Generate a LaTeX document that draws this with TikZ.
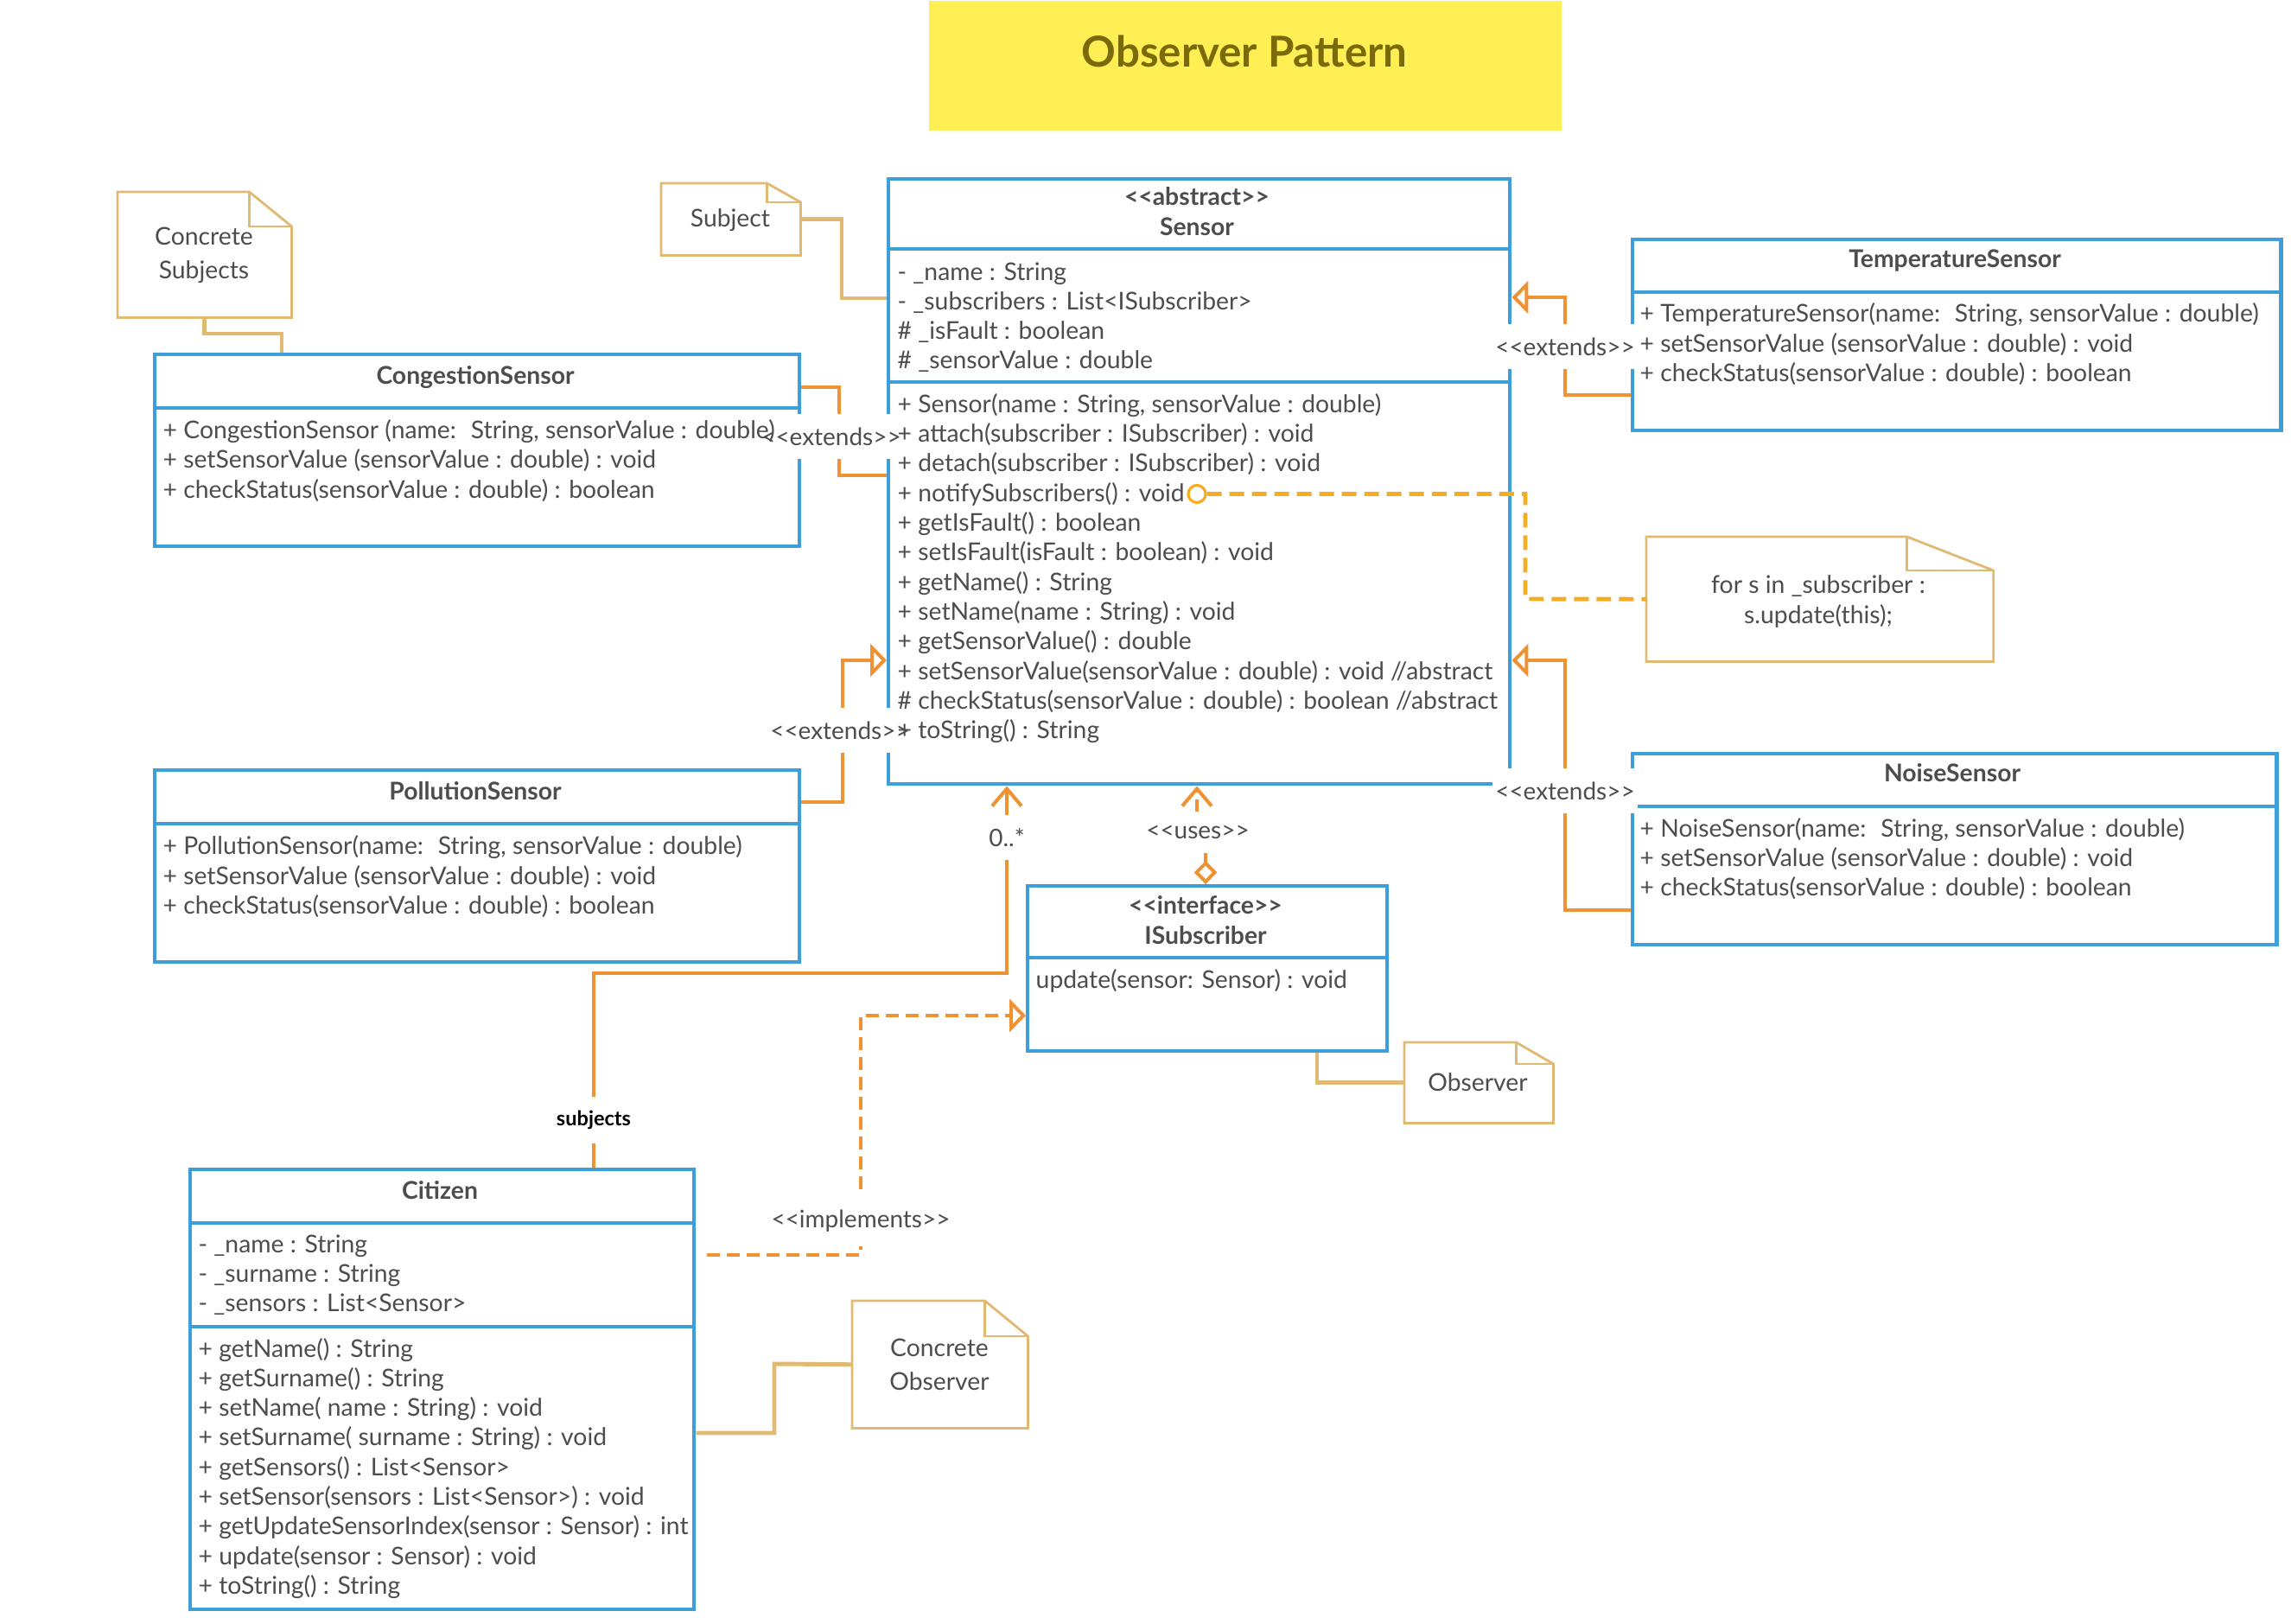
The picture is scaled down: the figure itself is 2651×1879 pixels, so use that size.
\documentclass[tikz,border=0pt]{standalone}
\usepackage{fontspec}
\setmainfont{Lato}
\usetikzlibrary{arrows.meta,calc}
\definecolor{boxblue}{RGB}{61,158,218}
\definecolor{conor}{RGB}{239,146,52}
\definecolor{notetan}{RGB}{224,186,114}
\definecolor{notifyy}{RGB}{245,172,30}
\definecolor{txt}{RGB}{77,77,77}
\definecolor{ttlfill}{RGB}{255,239,85}
\definecolor{ttltxt}{RGB}{122,106,10}
\newcommand{\fs}{\fontsize{8.05}{10}\selectfont}
\newcommand{\lfs}{\fontsize{7.95}{10}\selectfont}
\newcommand{\sopen}{<{}<}
\newcommand{\sclose}{>{}>}
\newcommand{\members}[5]{\foreach \mtext [count=\mi] in {#5} {\node[mem] (#1\mi) at (#2,{#3+9+#4*(\mi-1)}) {\mtext};}}
\newcommand{\dogear}[3]{%
  \draw[notefr] (#1.north west) -- ([xshift=-#2]#1.north east) -- ([yshift=-#3]#1.north east) -- (#1.south east) -- (#1.south west) -- cycle;
  \draw[notefr] ([xshift=-#2]#1.north east) -- ([xshift=-#2,yshift=-#3]#1.north east) -- ([yshift=-#3]#1.north east);}
\begin{document}
\begin{tikzpicture}[x=0.01cm,y=-0.01cm,
  cbox/.style={draw=boxblue, line width=1.15pt, fill=white, anchor=north west, inner sep=0, rectangle},
  sepl/.style={draw=boxblue, line width=1.15pt},
  notebox/.style={anchor=north west, inner sep=0, rectangle, fill=white},
  notefr/.style={draw=notetan, line width=0.8pt, line join=miter},
  notelink/.style={draw=notetan, line width=1.4pt},
  mem/.style={anchor=base west, inner sep=0, font=\fs, text=txt},
  ctitle/.style={anchor=base, inner sep=0, font=\fs\bfseries, text=txt},
  ntext/.style={anchor=base, inner sep=0, font=\fs, text=txt},
  conn/.style={draw=conor, line width=1.15pt},
  dashc/.style={conn, dash pattern=on 0.15cm off 0.08cm},
  exttip/.style={-{Triangle[open,length=0.19cm,width=0.38cm]}},
  barbtip/.style={-{Straight Barb[length=0.2cm,width=0.34cm]}},
  lbl/.style={fill=white, inner xsep=1pt, inner ysep=4.5pt, font=\lfs, text=txt},
]
\useasboundingbox (0,0) rectangle (2651,1879);

% title
\node[anchor=north west, fill=ttlfill, minimum width=7.32cm, minimum height=1.5cm, inner sep=0] (titlebox) at (1074,0) {};
\node[anchor=base, inner sep=0, font=\fontsize{14}{16}\selectfont\bfseries, text=ttltxt] (title) at (1440,78) {Observer Pattern};

% notes
\node[notebox, minimum width=2.00cm, minimum height=1.44cm] (cs) at (136,222) {};
\dogear{cs}{0.49cm}{0.40cm}
\node[notebox, minimum width=1.60cm, minimum height=0.82cm] (subj) at (765,212) {};
\dogear{subj}{0.39cm}{0.22cm}
\node[notebox, minimum width=1.71cm, minimum height=0.92cm] (obs) at (1625,1206) {};
\dogear{obs}{0.43cm}{0.25cm}
\node[notebox, minimum width=2.02cm, minimum height=1.46cm] (co) at (986,1505) {};
\dogear{co}{0.50cm}{0.41cm}
\node[notebox, minimum width=4.00cm, minimum height=1.43cm] (loop) at (1905,621) {};
\dogear{loop}{1.00cm}{0.39cm}

% class boxes
\node[cbox, minimum width=7.19cm, minimum height=7.00cm] (sensor) at (1026,205) {};
\draw[sepl] (sensor.west |- 0,288) -- (sensor.east |- 0,288);
\draw[sepl] (sensor.west |- 0,442) -- (sensor.east |- 0,442);
\node[cbox, minimum width=7.46cm, minimum height=2.22cm] (cong) at (177,408) {};
\draw[sepl] (cong.west |- 0,472) -- (cong.east |- 0,472);
\node[cbox, minimum width=7.46cm, minimum height=2.22cm] (poll) at (177,889) {};
\draw[sepl] (poll.west |- 0,953) -- (poll.east |- 0,953);
\node[cbox, minimum width=7.50cm, minimum height=2.21cm] (temp) at (1887,275) {};
\draw[sepl] (temp.west |- 0,338) -- (temp.east |- 0,338);
\node[cbox, minimum width=7.45cm, minimum height=2.21cm] (noise) at (1887,870) {};
\draw[sepl] (noise.west |- 0,933) -- (noise.east |- 0,933);
\node[cbox, minimum width=4.16cm, minimum height=1.91cm] (isub) at (1187,1023) {};
\draw[sepl] (isub.west |- 0,1108) -- (isub.east |- 0,1108);
\node[cbox, minimum width=5.83cm, minimum height=5.09cm] (citizen) at (218,1351) {};
\draw[sepl] (citizen.west |- 0,1415) -- (citizen.east |- 0,1415);
\draw[sepl] (citizen.west |- 0,1535) -- (citizen.east |- 0,1535);

% note links
\coordinate (c1) at (326,386);
\draw[notelink] (cs.south) |- (c1) -- (c1 |- cong.north);
\coordinate (c2) at (974,345);
\draw[notelink] (subj.east) -| (c2) -- (c2 -| sensor.west);
\draw[notelink] (1524,0 |- isub.south) |- (obs.west);
\coordinate (c11) at (896,1578);
\draw[notelink] (citizen.east |- 0,1658) -| (c11) -- (co.west);

% notify
\node[circle, draw=notifyy, line width=0.9pt, minimum size=0.2cm, inner sep=0] (nc) at (1385,571.5) {};
\coordinate (c12) at (1765,693);
\draw[draw=notifyy, line width=1.4pt, dash pattern=on 0.17cm off 0.09cm] (nc.east) -| (c12) -- (loop.west);

% generalisations
\coordinate (c3) at (971,550);
\draw[conn] (cong.east |- 0,448) -| (c3) -- (c3 -| sensor.west);
\coordinate (c4) at (975,764);
\draw[conn, exttip] (poll.east |- 0,928) -| (c4) -- (c4 -| sensor.west);
\coordinate (c5) at (1811,344);
\draw[conn, exttip] (temp.west |- 0,457) -| (c5) -- (c5 -| sensor.east);
\coordinate (c6) at (1811,764);
\draw[conn, exttip] (noise.west |- 0,1053) -| (c6) -- (c6 -| sensor.east);

% association
\coordinate (c7) at (1165,1126);
\draw[conn, barbtip] (687,0 |- citizen.north) |- (c7) -- (c7 |- sensor.south);
% uses
\coordinate (c8a) at (1395,963);
\coordinate (c8b) at (1385,963);
\draw[dashc, {Diamond[open,length=0.27cm,width=0.27cm]}-{Straight Barb[length=0.2cm,width=0.34cm]}] (c8a |- isub.north) -- (c8a) -- (c8b) -- (c8b |- sensor.south);
% implements
\coordinate (c9) at (996,1175);
\draw[dashc, exttip] ($(citizen.east |- 0,1452)+(13,0)$) -| (c9) -- (c9 -| isub.west);

% labels
\node[lbl] (l1) at (962,505) {\sopen extends\sclose};
\node[lbl] (l2) at (972,845) {\sopen extends\sclose};
\node[lbl] (l3) at (1811,401) {\sopen extends\sclose};
\node[lbl] (l4) at (1811,915) {\sopen extends\sclose};
\node[lbl] (l5) at (1165,969) {0..*};
\node[lbl] (l6) at (1386,963) {\sopen uses\sclose};
\node[lbl, font=\fontsize{6.7}{8}\selectfont\bfseries, text=black] (l7) at (687,1296) {subjects};
\node[lbl] (l8) at (996,1413) {\sopen implements\sclose};

% note texts
\node[ntext] (cst1) at (236,284) {Concrete};
\node[ntext] (cst2) at (236,322) {Subjects};
\node[ntext] (subjt) at (845,262) {Subject};
\node[ntext] (obst) at (1710,1262) {Observer};
\node[ntext] (cot1) at (1087,1569) {Concrete};
\node[ntext] (cot2) at (1087,1608) {Observer};
\node[ntext] (loopt1) at (2104,686) {for s in \_subscriber :};
\node[ntext] (loopt2) at (2104,721) {s.update(this);};

% class titles
\node[ctitle] (st1) at (1385,238) {\sopen abstract\sclose};
\node[ctitle] (st2) at (1385,272) {Sensor};
\node[ctitle] (cgt) at (550,444) {CongestionSensor};
\node[ctitle] (plt) at (550,925) {PollutionSensor};
\node[ctitle] (tmt) at (2262,310) {TemperatureSensor};
\node[ctitle] (nst) at (2259,904) {NoiseSensor};
\node[ctitle] (ist1) at (1395,1057) {\sopen interface\sclose};
\node[ctitle] (ist2) at (1395,1092) {ISubscriber};
\node[ctitle] (czt) at (509,1387) {Citizen};

% members
\members{sa}{1038}{315}{34.3}{{- \_name : String},{- \_subscribers : List<ISubscriber>},{\# \_isFault : boolean},{\# \_sensorValue : double}}
\members{sm}{1038}{468}{34.36}{{+ Sensor(name : String, sensorValue : double)},{+ attach(subscriber : ISubscriber) : void},{+ detach(subscriber : ISubscriber) : void},{+ notifySubscribers() : void},{+ getIsFault() : boolean},{+ setIsFault(isFault : boolean) : void},{+ getName() : String},{+ setName(name : String) : void},{+ getSensorValue() : double},{+ setSensorValue(sensorValue : double) : void //abstract},{\# checkStatus(sensorValue : double) : boolean //abstract},{+ toString() : String}}
\members{cm}{188}{498}{34.5}{{+ CongestionSensor (name:~ String, sensorValue : double)},{+ setSensorValue (sensorValue : double) : void},{+ checkStatus(sensorValue : double) : boolean}}
\members{pm}{188}{979.5}{34.5}{{+ PollutionSensor(name:~ String, sensorValue : double)},{+ setSensorValue (sensorValue : double) : void},{+ checkStatus(sensorValue : double) : boolean}}
\members{tm}{1897}{364}{34}{{+ TemperatureSensor(name:~ String, sensorValue : double)},{+ setSensorValue (sensorValue : double) : void},{+ checkStatus(sensorValue : double) : boolean}}
\members{nm}{1897}{959}{34}{{+ NoiseSensor(name:~ String, sensorValue : double)},{+ setSensorValue (sensorValue : double) : void},{+ checkStatus(sensorValue : double) : boolean}}
\members{im}{1198}{1134}{34}{{update(sensor: Sensor) : void}}
\members{ca}{229}{1440}{34}{{- \_name : String},{- \_surname : String},{- \_sensors : List<Sensor>}}
\members{cmm}{229}{1561}{34.3}{{+ getName() : String},{+ getSurname() : String},{+ setName( name : String) : void},{+ setSurname( surname : String) : void},{+ getSensors() : List<Sensor>},{+ setSensor(sensors : List<Sensor>) : void},{+ getUpdateSensorIndex(sensor : Sensor) : int},{+ update(sensor : Sensor) : void},{+ toString() : String}}
\end{tikzpicture}
\end{document}
